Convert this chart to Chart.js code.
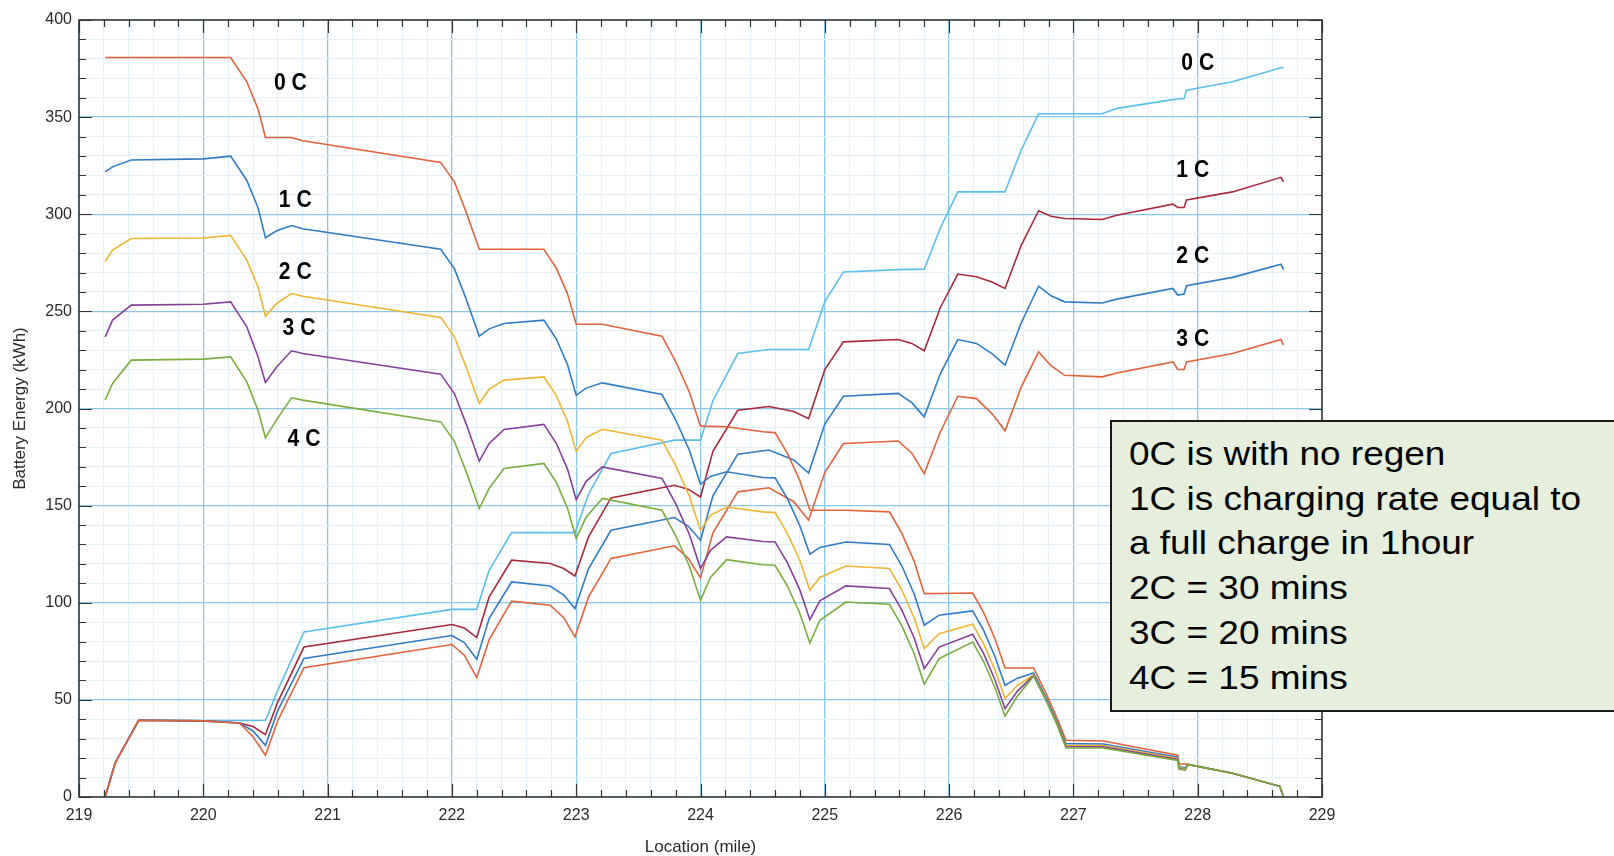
<!DOCTYPE html>
<html>
<head>
<meta charset="utf-8">
<script src="https://cdn.jsdelivr.net/npm/chart.js@4.4.1/dist/chart.umd.min.js"></script>
<style>
    html, body { margin: 0; padding: 0; background: #fff; overflow: hidden; }
    #wrap { position: relative; width: 1614px; height: 856px; }
    #note {
        position: absolute; left: 1110px; top: 420px; width: 540px; height: 292px;
        box-sizing: border-box; padding: 10px 0 0 17px;
        background: #e5efdb; border: 2px solid #1a1a1a;
        font-family: "Liberation Sans", Arial, sans-serif; font-size: 33px; line-height: 44.7px; color: #000;
    }
    #note div { transform: scaleX(1.12); transform-origin: left center; white-space: nowrap; }
</style>
</head>
<body>
<div id="wrap">
    <canvas id="chart" width="1614" height="856"></canvas>
    <div id="note">
        <div>0C is with no regen</div>
        <div>1C is charging rate equal to</div>
        <div>a full charge in 1hour</div>
        <div>2C = 30 mins</div>
        <div>3C = 20 mins</div>
        <div>4C = 15 mins</div>
    </div>
</div>
<script>
// Route westbound (battery draining) - shared locations, miles
const xDown = [219.21, 219.27, 219.42, 220.0, 220.22, 220.35, 220.44, 220.5, 220.59, 220.71,
    220.8, 221.91, 222.02, 222.12, 222.22, 222.3, 222.42, 222.74, 222.84, 222.93,
    223.0, 223.08, 223.21, 223.69, 223.8, 223.91, 224.0, 224.08, 224.21, 224.5,
    224.6, 224.7, 224.8, 224.88, 224.96, 225.17, 225.52, 225.62, 225.72, 225.8,
    225.92, 226.19, 226.28, 226.37, 226.45, 226.55, 226.68, 226.78, 226.87, 226.94,
    227.24, 227.84, 227.85, 227.9, 227.92, 228.28, 228.66, 228.69];

// Battery energy (kWh) for each regen rate
const down0C = [380.7, 380.7, 380.7, 380.7, 380.7, 368.2, 354.2, 339.5, 339.5, 339.5,
    337.8, 326.7, 316.7, 300.2, 282, 282, 282, 282, 272.3, 259,
    243.4, 243.4, 243.4, 237.2, 224.2, 208.5, 190.9, 190.8, 190.6, 188,
    187.6, 176.8, 162.8, 147.6, 147.6, 147.6, 146.8, 135.7, 121.2, 104.7,
    104.8, 105, 94.7, 81.3, 66.4, 66.4, 66.4, 53.4, 40.4, 29.2,
    28.8, 21.5, 17, 17, 16.8, 12.2, 5.5, 0];
const down1C = [321.8, 324.4, 327.9, 328.5, 329.9, 317.4, 303.4, 287.9, 291.5, 294.2,
    292.5, 282, 272, 255.5, 237.2, 241, 243.8, 245.5, 235.8, 222.5,
    206.8, 210.5, 213.2, 207.2, 194.2, 178.5, 161, 165, 167.4, 164.5,
    164.3, 153.5, 139.5, 125, 128.5, 131.3, 130, 118.9, 104.4, 88.4,
    93.6, 95.8, 85.5, 72.1, 57.5, 61.2, 63.9, 51.3, 38.6, 27.5,
    27.3, 20.5, 15.5, 15, 16.8, 12.2, 5.5, 0];
const down2C = [275.8, 281.5, 287.5, 287.8, 289.1, 276.4, 262.6, 247.5, 254.1, 259.2,
    257.8, 246.9, 236.9, 220.4, 202.6, 210, 214.6, 216.3, 206.6, 193.3,
    178, 185, 189.3, 183.7, 170.7, 155, 137.3, 145, 149.3, 146.8,
    146.4, 135.6, 121.6, 106.4, 113, 118.9, 117.6, 106.5, 92, 76.4,
    84.1, 88.9, 78.6, 65.2, 50.7, 57.5, 62.8, 50.3, 37.9, 26.6,
    26.5, 19.8, 15, 14.5, 16.8, 12.2, 5.5, 0];
const down3C = [236.9, 245.5, 253.2, 253.7, 254.9, 242, 226.6, 213.4, 221.4, 229.7,
    228.3, 217.7, 207.7, 191.2, 172.9, 182, 189.2, 191.8, 182.1, 168.8,
    153.1, 162.5, 169.9, 164, 151, 135.3, 117.6, 127, 133.9, 131.5,
    131.3, 120.5, 106.5, 91.3, 101, 108.7, 107.3, 96.2, 81.7, 66.1,
    77.2, 83.8, 73.5, 60.1, 45.5, 54.5, 62.5, 50, 37.5, 26,
    25.8, 19.3, 14.5, 14, 16.8, 12.2, 5.5, 0];
const down4C = [204.3, 212.9, 224.9, 225.4, 226.6, 213.7, 199.1, 184.9, 194.3, 205.5,
    204.3, 193.1, 183.1, 166.6, 148.5, 159, 169.1, 171.7, 162, 148.7,
    133.1, 144, 153.7, 147.6, 134.6, 118.9, 101.3, 113, 122.2, 119.6,
    119.3, 108.5, 94.5, 79.3, 91, 100.4, 99.2, 88.1, 73.6, 58,
    71.3, 79.8, 69.5, 56.1, 41.6, 52, 62.2, 49.7, 37, 25.2,
    25.2, 18.8, 14.5, 14, 16.8, 12.2, 5.5, 0];

// Route eastbound (battery filling)
const xUp = [219.21, 219.29, 219.31, 219.48, 220.0, 220.29, 220.4, 220.5, 220.6, 220.81,
    222.0, 222.1, 222.2, 222.3, 222.48, 222.79, 222.9, 222.99, 223.1, 223.28,
    223.79, 223.9, 224.0, 224.1, 224.3, 224.55, 224.75, 224.87, 225.0, 225.15,
    225.59, 225.7, 225.8, 225.93, 226.07, 226.22, 226.35, 226.45, 226.58, 226.72,
    226.82, 226.93, 227.23, 227.35, 227.8, 227.84, 227.89, 227.91, 228.28, 228.67,
    228.69];
const up0C = [0, 17.2, 19.8, 39.5, 39.3, 39.4, 39.4, 39.5, 55, 85,
    96.6, 96.6, 96.6, 116.7, 136.1, 136.1, 136.1, 136.1, 156, 176.8,
    183.7, 183.7, 183.7, 204, 228.3, 230.4, 230.4, 230.4, 255, 270.3,
    271.5, 271.6, 271.7, 293, 311.5, 311.5, 311.5, 311.5, 333, 351.7,
    351.7, 351.7, 351.7, 354.5, 359, 359.3, 359.6, 363.9, 368.2, 375.4,
    375.6];
const up1C = [0, 17.2, 19.8, 39.5, 39.2, 38.1, 36.3, 32.1, 49, 77.2,
    88.8, 87, 82.1, 103, 121.9, 120.2, 117.6, 113.8, 134, 154,
    160.5, 158.5, 154.5, 178, 199.1, 201, 198.5, 194.8, 220, 234.3,
    235.5, 233.5, 229.7, 252, 269.2, 267.8, 265, 261.8, 284, 301.8,
    299, 297.8, 297.3, 299.5, 305.2, 303.5, 303.5, 307.3, 311.5, 319,
    316.7];
const up2C = [0, 17.2, 19.8, 39.5, 39.2, 38.1, 34, 26.6, 44.6, 71.3,
    83.1, 79.5, 70.9, 92, 110.7, 108.6, 104, 97, 117.6, 137.3,
    143.9, 139.5, 132.2, 155, 176.5, 178.6, 173.5, 166.8, 192, 206.3,
    207.8, 203, 195.7, 218, 235.5, 233.5, 228, 222.3, 244, 263,
    258, 254.9, 254.3, 256.3, 261.8, 258.4, 258.9, 263.2, 267.5, 274.3,
    271.5];
const up3C = [0, 17.2, 19.8, 39.5, 39.2, 38.1, 31, 21.5, 39.5, 66.6,
    78.5, 73, 61.5, 81, 100.8, 98.7, 92.3, 82.4, 103, 122.8,
    129.3, 123, 112.8, 136, 157.1, 159.2, 152, 142.5, 167, 182,
    183.3, 177, 166.5, 188, 206.3, 205.1, 197, 188.5, 211, 229.1,
    222, 217.1, 216.3, 218.3, 224, 220.1, 220.1, 224, 228.3, 235.5,
    232.6];

// Curve labels (data coordinates)
const labelText = ['0 C', '1 C', '2 C', '3 C', '4 C', '0 C', '1 C', '2 C', '3 C'];
const labelX = [220.70, 220.74, 220.74, 220.77, 220.81, 228.0, 227.96, 227.96, 227.96];
const labelY = [367.3, 307, 270, 241.2, 184, 377.9, 322.5, 278.5, 235.6];

const FONT = '"Liberation Sans", Arial, sans-serif';
const MAJOR_GRID = '#8cc6e6';
const MINOR_GRID = '#e2f0f9';

function onStep(v, step) {
    const r = v / step;
    return Math.abs(r - Math.round(r)) < 1e-6;
}

function series(xs, ys, color) {
    return {
        data: xs.map((x, i) => ({ x: x, y: ys[i] })),
        borderColor: color,
        borderWidth: 1.6,
        pointRadius: 0,
        tension: 0,
        fill: false
    };
}

// inward ticks, box frame and the curve labels
const framePlugin = {
    id: 'frame',
    afterDraw(chart) {
        const { ctx, chartArea: a, scales: { x, y } } = chart;
        ctx.save();
        ctx.strokeStyle = '#333';
        ctx.lineWidth = 1.2;
        ctx.beginPath();
        x.ticks.forEach(t => {
            const px = Math.round(x.getPixelForValue(t.value)) + 0.5;
            const len = onStep(t.value, 1) ? 13 : 7;
            ctx.moveTo(px, a.bottom); ctx.lineTo(px, a.bottom - len);
            ctx.moveTo(px, a.top); ctx.lineTo(px, a.top + len);
        });
        y.ticks.forEach(t => {
            const py = Math.round(y.getPixelForValue(t.value)) + 0.5;
            const len = onStep(t.value, 50) ? 13 : 7;
            ctx.moveTo(a.left, py); ctx.lineTo(a.left + len, py);
            ctx.moveTo(a.right, py); ctx.lineTo(a.right - len, py);
        });
        ctx.stroke();
        ctx.lineWidth = 1.5;
        ctx.strokeRect(a.left, a.top, a.right - a.left, a.bottom - a.top);

        ctx.fillStyle = '#000';
        ctx.font = 'bold 24px ' + FONT;
        ctx.textAlign = 'center';
        ctx.textBaseline = 'middle';
        labelText.forEach((txt, i) => {
            ctx.save();
            ctx.translate(x.getPixelForValue(labelX[i]), y.getPixelForValue(labelY[i]));
            ctx.scale(0.88, 1);
            ctx.fillText(txt, 0, 0);
            ctx.restore();
        });
        ctx.restore();
    }
};

const ctx = document.getElementById('chart').getContext('2d');
new Chart(ctx, {
    type: 'line',
    data: {
        datasets: [
            series(xDown, down4C, '#79ad3c'),
            series(xDown, down3C, '#87409a'),
            series(xDown, down2C, '#efb431'),
            series(xDown, down1C, '#2f7cc4'),
            series(xDown, down0C, '#e2623a'),
            series(xUp, up3C, '#e2623a'),
            series(xUp, up2C, '#2f7cc4'),
            series(xUp, up1C, '#a8283c'),
            series(xUp, up0C, '#5bbfec')
        ]
    },
    options: {
        responsive: false,
        animation: false,
        layout: { padding: { left: 0, right: 292, top: 20, bottom: 0 } },
        plugins: { legend: { display: false }, tooltip: { enabled: false } },
        scales: {
            x: {
                type: 'linear',
                min: 219,
                max: 229,
                afterFit: s => { s.height = 59; },
                border: { display: false },
                grid: {
                    drawTicks: false,
                    color: c => onStep(c.tick.value, 1) ? MAJOR_GRID : MINOR_GRID,
                    lineWidth: c => onStep(c.tick.value, 1) ? 1.3 : 1
                },
                ticks: {
                    stepSize: 0.2,
                    autoSkip: false,
                    maxRotation: 0,
                    padding: 9,
                    color: '#2b2b2b',
                    font: { family: FONT, size: 16 },
                    callback: v => onStep(v, 1) ? String(Math.round(v)) : ''
                },
                title: {
                    display: true,
                    text: 'Location (mile)',
                    color: '#2b2b2b',
                    font: { family: FONT, size: 17, lineHeight: 1 },
                    padding: { top: 0, bottom: 0 }
                }
            },
            y: {
                min: 0,
                max: 400,
                afterFit: s => { s.width = 79; },
                border: { display: false },
                grid: {
                    drawTicks: false,
                    color: c => onStep(c.tick.value, 50) ? MAJOR_GRID : MINOR_GRID,
                    lineWidth: c => onStep(c.tick.value, 50) ? 1.3 : 1
                },
                ticks: {
                    stepSize: 10,
                    autoSkip: false,
                    padding: 7,
                    color: '#2b2b2b',
                    font: { family: FONT, size: 16 },
                    callback: v => onStep(v, 50) ? String(v) : ''
                },
                title: {
                    display: true,
                    text: 'Battery Energy (kWh)',
                    color: '#2b2b2b',
                    font: { family: FONT, size: 17, lineHeight: 1 },
                    padding: { top: 12, bottom: 0 }
                }
            }
        }
    },
    plugins: [framePlugin]
});
</script>
</body>
</html>
